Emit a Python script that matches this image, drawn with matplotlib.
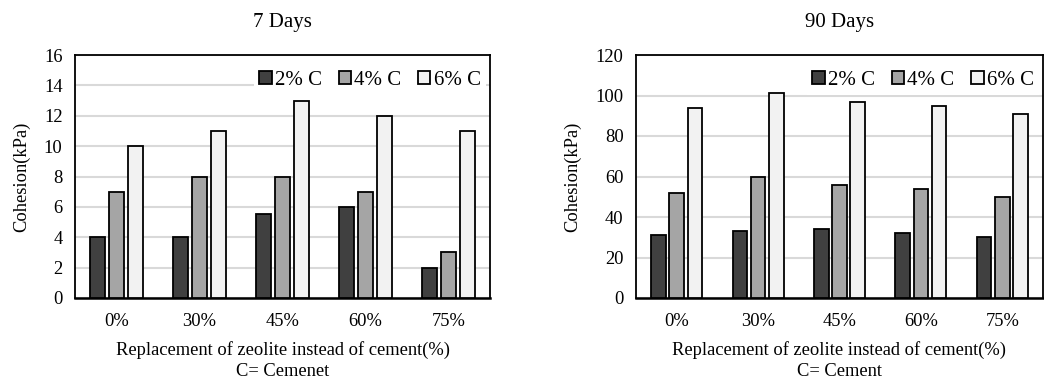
import matplotlib
matplotlib.use("Agg")
import matplotlib.pyplot as plt
import numpy as np

categories = ["0%", "30%", "45%", "60%", "75%"]
series_names = ["2% C", "4% C", "6% C"]
d7_2 = [4, 4, 5.5, 6, 2]
d7_4 = [7, 8, 8, 7, 3]
d7_6 = [10, 11, 13, 12, 11]
d90_2 = [31, 33, 34, 32, 30]
d90_4 = [52, 60, 56, 54, 50]
d90_6 = [94, 101, 97, 95, 91]
titles = ["7 Days", "90 Days"]
xlabels = ["Replacement of zeolite instead of cement(%)\nC= Cemenet",
           "Replacement of zeolite instead of cement(%)\nC= Cement"]
ylabel = "Cohesion(kPa)"

colors = ["#404040", "#a5a5a5", "#f2f2f2"]

plt.rcParams['font.family'] = ['Liberation Serif', 'DejaVu Serif']

fig = plt.figure(figsize=(10.44, 3.81), dpi=100)
ax1 = fig.add_axes([75/1044, 1-298/381, 415/1044, 243/381])
ax2 = fig.add_axes([636/1044, 1-298/381, 407/1044, 243/381])

def draw(ax, data, ymax, step, title, xlabel, title_y):
    x = np.arange(len(categories))
    w = 0.18
    off = 0.224
    for i, (vals, c, name) in enumerate(zip(data, colors, series_names)):
        ax.bar(x + (i - 1) * off, vals, width=w, color=c, edgecolor="black",
               linewidth=1.3, label=name, zorder=3)
    ax.set_xlim(-0.5, len(categories) - 0.5)
    ax.set_ylim(0, ymax)
    ax.set_yticks(np.arange(0, ymax + step / 2, step))
    ax.set_xticks(x)
    ax.set_xticklabels(categories)
    ax.tick_params(axis='both', length=0, labelsize=13.3)
    ax.tick_params(axis='x', pad=11)
    ax.tick_params(axis='y', pad=9)
    ax.yaxis.grid(True, color="#d9d9d9", linewidth=1.5, zorder=0)
    ax.set_axisbelow(True)
    for s in ax.spines.values():
        s.set_color("black")
        s.set_linewidth(1.3)
    ax.spines['bottom'].set_linewidth(1.8)
    ax.set_ylabel(ylabel, fontsize=13.3, labelpad=10)
    ax.set_xlabel(xlabel, fontsize=13.3, labelpad=8, linespacing=1.25)
    fig.text((ax.get_position().x0 + ax.get_position().x1) / 2, title_y, title,
             ha="center", va="center", fontsize=15)
    leg = ax.legend(loc="upper right", bbox_to_anchor=(1.0, 0.972), ncol=3,
                    fontsize=15, frameon=True, framealpha=1, facecolor="white",
                    edgecolor="none", fancybox=False, handlelength=0.6,
                    handleheight=0.6, handletextpad=0.15, columnspacing=0.8,
                    borderpad=0.25, borderaxespad=0.2)
    leg.set_zorder(5)

draw(ax1, [d7_2, d7_4, d7_6], 16, 2, titles[0], xlabels[0], 1 - 23/381)
draw(ax2, [d90_2, d90_4, d90_6], 120, 20, titles[1], xlabels[1], 1 - 22/381)

fig.savefig("out.png", dpi=100)
